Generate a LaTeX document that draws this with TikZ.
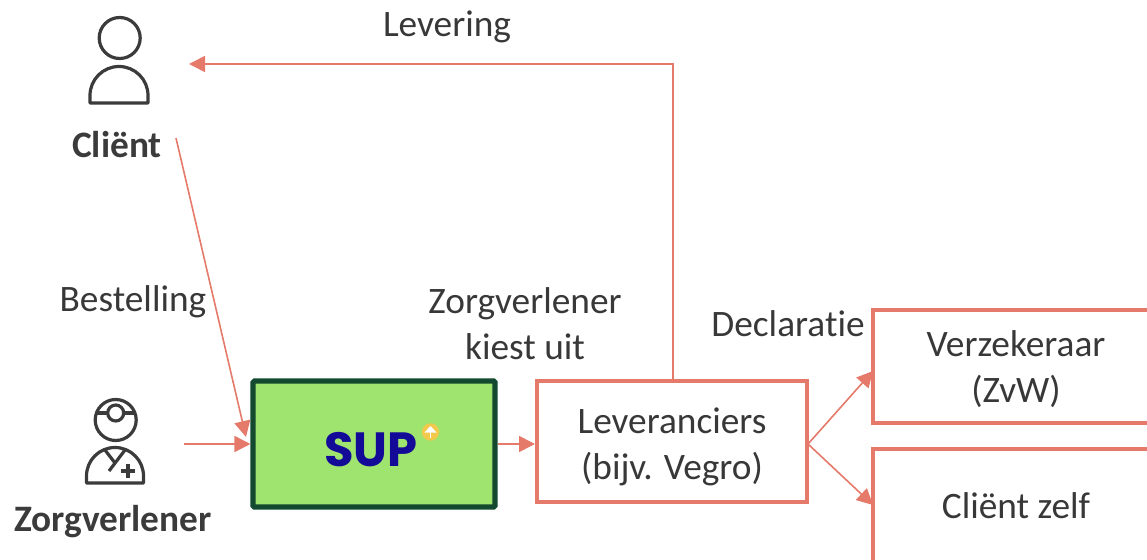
\documentclass[tikz,border=0pt]{standalone}
\usepackage{fontspec}
\setmainfont{Carlito}[Ligatures=NoCommon]
\newfontfamily\supfont{Poppins}
\usetikzlibrary{arrows.meta}
\definecolor{salmon}{HTML}{E57A6A}
\definecolor{ink}{HTML}{3B3B3B}
\definecolor{darkgreen}{HTML}{13492F}
\definecolor{limefill}{HTML}{9FE46E}
\definecolor{supblue}{HTML}{130A98}
\definecolor{badge}{HTML}{F2C94C}
\tikzset{
  x=0.75pt,y=-0.75pt,
  label text/.style={font=\fontsize{28}{34.5}\selectfont,text=ink!95!black,align=center,inner sep=0pt},
  who text/.style={font=\fontsize{28}{30}\selectfont\bfseries,text=ink,inner sep=0pt},
  salmon box/.style={draw=salmon,line width=3pt,fill=white,inner sep=0pt},
  link/.style={draw=salmon,line width=1.2pt,-{Triangle[length=12pt,width=12pt]}},
  icon line/.style={draw=ink,line width=2.4pt,line join=round},
}
\begin{document}
\begin{tikzpicture}
\useasboundingbox (0,0) rectangle (1147,560);
\clip (0,0) rectangle (1147,560);

% boxes
\node[salmon box,minimum width=202.5pt,minimum height=90.75pt] (lev) at (672,441.5) {};
\node[salmon box,minimum width=214.5pt,minimum height=84.75pt] (verz) at (1016,366.5) {};
\node[salmon box,minimum width=214.5pt,minimum height=85.5pt] (zelf) at (1016,506) {};
\node[label text] (levtext) at (672,446.5) {Leveranciers\\(bijv. Vegro)};
\node[label text] (verztext) at (1016,369.5) {Verzekeraar\\(ZvW)};
\node[label text] (zelftext) at (1016,506) {Cliënt zelf};
\node[draw=darkgreen,fill=limefill,line width=3.8pt,rounded corners=1pt,minimum width=181.5pt,minimum height=94.5pt,inner sep=0pt] (sup) at (374,444) {};
\node[font=\supfont\bfseries\fontsize{36}{36}\selectfont,text=supblue,inner sep=0pt] (suplogo) at (371,450) {SUP};
\node[circle,fill=badge,minimum size=13pt,inner sep=0pt] (supbadge) at (430.5,432) {};
\draw[white,line width=1.3pt] (430.5,438) -- (430.5,428);
\fill[white] (424.5,432.5) -- (430.5,426) -- (436.5,432.5) -- cycle;

% anchors for free ends
\coordinate (clientIn) at (189,64);
\coordinate (clientOut) at (176,138);
\coordinate (orderIn) at (246,437);
\coordinate (carerOut) at (184,444);
\coordinate (levTop) at (673,381);
\coordinate (corner) at (673,64);
\coordinate (fork) at (808,444);
\coordinate (verzIn) at (873,371);
\coordinate (zelfIn) at (873,505);

% connectors
\draw[link] (clientOut) -- (orderIn);
\draw[link] (carerOut) -- (sup.west);
\draw[link] (sup.east) -- (sup.east -| lev.west);
\draw[link] (levTop) -- (corner) -- (clientIn);
\draw[link] (fork) -- (verzIn);
\draw[link] (fork) -- (zelfIn);

% client icon
\draw[icon line] (119.7,38) circle[radius=20.5];
\draw[icon line] (90,103) -- (90,95.5) arc[start angle=180,end angle=360,radius=29] -- (148,103) -- cycle;

% carer icon
\draw[icon line] (115.7,420) circle[radius=20.5];
\draw[icon line] (115.7,413) circle[radius=8];
\draw[icon line] (96,413) -- (107.7,413) (123.7,413) -- (135.5,413);
\draw[icon line] (86.5,483) -- (86.5,476) arc[start angle=180,end angle=360,radius=28.5] -- (143.5,483) -- cycle;
\draw[icon line] (105,450) -- (115,463);
\draw[icon line] (125,450) -- (109,471);
\draw[draw=ink,line width=3.4pt] (128,464) -- (128,478) (121,471) -- (135,471);

% texts
\node[label text] (levering) at (447,27) {Levering};
\node[label text] (bestelling) at (133,302) {Bestelling};
\node[label text] (kiest) at (525,324) {Zorgverlener\\kiest uit};
\node[label text] (decl) at (788,324) {Declaratie};
\node[who text] (client) at (117,145) {Cliënt};
\node[who text] (carer) at (113,522) {Zorgverlener};
\end{tikzpicture}
\end{document}
